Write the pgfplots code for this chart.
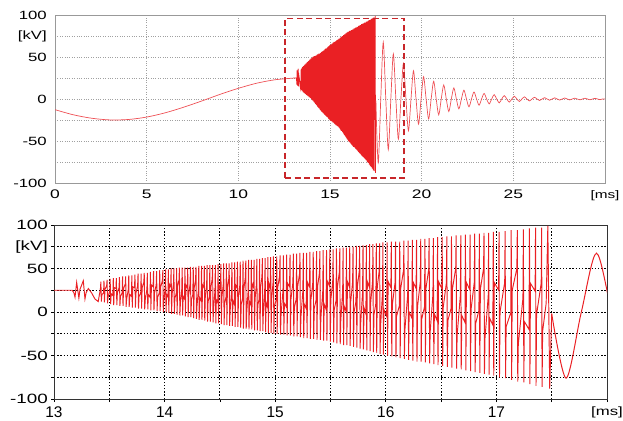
\documentclass[border=0pt]{standalone}
\usepackage{fontspec}
\setmainfont{Liberation Sans}
\newfontfamily\lbl[FakeStretch=1.4]{Liberation Sans}
\usepackage{pgfplots}
\pgfplotsset{compat=1.18}
\usepackage{pgfplotstable}
\definecolor{sig}{RGB}{234,32,36}
\definecolor{sigtop}{RGB}{238,80,85}
\definecolor{boxc}{RGB}{200,38,42}
\definecolor{gridtop}{RGB}{160,160,160}

\pgfplotstableread{
t v
0 -12.7
1 -18.8
2 -22.9
3 -24.9
4 -24.4
5 -21.5
6 -16.5
7 -9.9
8 -2.4
9 5.5
10 12.7
11 18.8
12 22.9
13 24.9
}\sinepart

\pgfplotstableread{
t v
13 25
13.165 25
13.18 22
13.19 17
13.205 34
13.225 16
13.235 26
13.265 36
13.28 15
13.29 22
13.31 27
13.34 22
13.37 15
13.40 12
13.42 27
13.424 35
13.428 12
13.433 20
13.448 22
13.452 36
13.456 11
13.461 26
13.476 30
13.48 37
13.484 10
13.489 17
13.504 25
13.508 38
13.512 9
13.517 21
13.532 19
13.536 39
13.54 8
13.545 28
13.56 27
13.564 39
13.568 8
13.573 22
13.588 28
13.592 40
13.596 7
13.601 18
13.616 22
13.62 41
13.624 7
13.629 27
13.644 32
13.648 41
13.652 6
13.657 15
13.672 26
13.676 42
13.68 6
13.685 20
13.70 18
13.704 42
13.708 5
13.713 29
13.728 28
13.732 43
13.736 5
13.741 22
13.756 30
13.76 44
13.764 4
13.769 18
13.784 22
13.788 44
13.792 4
13.797 28
13.812 34
13.816 45
13.82 3
13.825 14
13.84 26
13.844 45
13.848 3
13.853 20
13.868 17
13.872 46
13.876 2
13.881 31
13.896 29
13.90 47
13.904 2
13.909 22
13.924 31
13.928 47
13.932 1
13.937 17
13.952 22
13.956 48
13.96 1
13.965 29
13.98 36
13.984 48
13.988 0
13.993 12
14.005 27
14.009 49
14.013 0
14.018 20
14.03 17
14.034 49
14.038 -1
14.043 32
14.055 29
14.059 50
14.063 -2
14.068 21
14.08 32
14.084 50
14.088 -2
14.093 16
14.105 21
14.109 50
14.113 -3
14.118 29
14.13 37
14.134 51
14.138 -4
14.143 10
14.155 26
14.159 51
14.163 -4
14.168 18
14.18 15
14.184 51
14.188 -5
14.193 31
14.205 28
14.209 51
14.213 -6
14.218 20
14.23 32
14.234 52
14.238 -6
14.243 14
14.255 20
14.259 52
14.263 -7
14.268 28
14.28 37
14.284 52
14.288 -8
14.293 7
14.305 25
14.309 53
14.313 -9
14.318 16
14.33 13
14.334 53
14.338 -9
14.343 31
14.355 28
14.359 53
14.363 -10
14.368 18
14.38 31
14.384 54
14.388 -11
14.393 12
14.405 18
14.409 54
14.413 -11
14.418 28
14.43 38
14.434 54
14.438 -12
14.443 4
14.455 24
14.459 54
14.463 -13
14.468 14
14.48 11
14.484 55
14.488 -13
14.493 31
14.505 27
14.509 55
14.513 -14
14.518 17
14.53 31
14.534 56
14.538 -15
14.543 10
14.555 17
14.559 56
14.563 -15
14.568 28
14.58 38
14.584 56
14.588 -16
14.593 2
14.605 24
14.609 57
14.613 -16
14.618 13
14.63 9
14.634 57
14.638 -17
14.643 31
14.655 28
14.659 58
14.663 -17
14.668 17
14.68 31
14.684 58
14.688 -18
14.693 9
14.705 16
14.709 59
14.713 -19
14.718 28
14.73 40
14.734 59
14.738 -19
14.743 0
14.755 24
14.759 60
14.763 -20
14.768 12
14.78 8
14.784 60
14.788 -20
14.793 32
14.805 28
14.809 60
14.813 -21
14.818 15
14.83 32
14.834 61
14.838 -21
14.843 8
14.855 15
14.859 61
14.863 -22
14.868 28
14.88 41
14.884 62
14.888 -22
14.893 -1
14.905 24
14.909 62
14.913 -23
14.918 11
14.93 6
14.934 63
14.938 -24
14.943 33
14.955 28
14.959 63
14.963 -24
14.968 15
14.98 33
14.984 64
14.988 -25
14.993 6
15.01 15
15.014 64
15.018 -25
15.023 28
15.04 42
15.044 65
15.048 -26
15.053 -3
15.07 24
15.074 65
15.078 -26
15.083 10
15.10 6
15.104 66
15.108 -27
15.113 33
15.13 29
15.134 66
15.138 -27
15.143 15
15.16 34
15.164 67
15.168 -28
15.173 5
15.19 15
15.194 67
15.198 -28
15.203 29
15.22 44
15.224 68
15.228 -29
15.233 -5
15.25 24
15.254 68
15.258 -30
15.263 9
15.28 4
15.284 68
15.288 -30
15.293 34
15.31 29
15.314 69
15.318 -31
15.323 14
15.34 34
15.344 69
15.348 -31
15.353 4
15.37 14
15.374 70
15.378 -32
15.383 29
15.40 45
15.404 70
15.408 -32
15.413 -7
15.43 24
15.434 71
15.438 -33
15.443 9
15.46 3
15.464 71
15.468 -33
15.473 35
15.49 30
15.494 72
15.498 -34
15.503 14
15.52 35
15.524 72
15.528 -35
15.533 2
15.55 13
15.554 73
15.558 -36
15.563 29
15.58 46
15.584 73
15.588 -37
15.593 -10
15.61 24
15.614 74
15.618 -38
15.623 7
15.64 1
15.644 74
15.648 -38
15.653 35
15.67 29
15.674 75
15.678 -39
15.683 12
15.70 35
15.704 75
15.708 -40
15.713 0
15.73 12
15.734 76
15.738 -41
15.743 29
15.76 47
15.764 76
15.768 -42
15.773 -13
15.79 23
15.794 77
15.798 -43
15.803 5
15.82 -2
15.824 77
15.828 -44
15.833 35
15.85 29
15.854 78
15.858 -45
15.863 10
15.88 35
15.884 78
15.888 -46
15.893 -3
15.91 10
15.914 79
15.918 -47
15.923 29
15.94 47
15.944 79
15.948 -48
15.953 -16
15.97 22
15.974 80
15.978 -49
15.983 3
16.008 -5
16.012 80
16.016 -50
16.021 35
16.046 28
16.05 81
16.054 -51
16.059 8
16.084 34
16.088 81
16.092 -52
16.097 -5
16.122 7
16.126 81
16.13 -53
16.135 27
16.16 48
16.164 82
16.168 -54
16.173 -20
16.198 20
16.202 82
16.206 -55
16.211 0
16.236 -7
16.24 83
16.244 -56
16.249 34
16.274 27
16.278 83
16.282 -57
16.287 6
16.312 35
16.316 84
16.32 -57
16.325 -8
16.35 6
16.354 84
16.358 -58
16.363 27
16.388 49
16.392 85
16.396 -59
16.401 -23
16.426 20
16.43 85
16.434 -60
16.439 -2
16.464 -10
16.468 86
16.472 -61
16.477 35
16.506 27
16.51 86
16.514 -62
16.519 5
16.548 34
16.552 87
16.556 -63
16.561 -10
16.59 4
16.594 87
16.598 -64
16.603 27
16.632 50
16.636 88
16.64 -65
16.645 -27
16.674 19
16.678 88
16.682 -66
16.687 -4
16.716 -12
16.72 89
16.724 -67
16.729 34
16.758 26
16.762 89
16.766 -68
16.771 3
16.80 34
16.804 90
16.808 -69
16.813 -13
16.842 2
16.846 90
16.85 -70
16.855 26
16.884 50
16.888 91
16.892 -71
16.897 -30
16.926 18
16.93 91
16.934 -72
16.939 -7
16.968 -15
16.972 92
16.976 -73
16.981 34
17.02 25
17.024 92
17.028 -75
17.033 0
17.075 34
17.079 93
17.083 -76
17.088 -17
17.13 -1
17.134 94
17.138 -78
17.143 25
17.185 50
17.189 94
17.193 -80
17.198 -37
17.24 16
17.244 95
17.248 -81
17.253 -11
17.295 -20
17.299 96
17.303 -83
17.308 33
17.35 24
17.354 97
17.358 -85
17.363 -3
17.405 33
17.409 97
17.413 -86
17.418 -22
17.45 10
17.465 99
17.482 -88
17.50 -2
}\hfpart

\pgfplotstableread{
t v
17.5 -2
17.63 -76
17.768 0
17.905 67.6
18.043 0
18.18 -60.2
18.318 0
18.455 53.6
18.593 0
18.73 -47.7
18.868 0
19.005 42.4
19.143 0
19.28 -37.8
19.418 0
19.555 33.6
19.693 0
19.83 -29.9
19.968 0
20.105 26.6
20.243 0
20.38 -23.7
20.518 0
20.655 21.1
20.793 0
20.93 -18.8
21.068 0
21.205 16.7
21.343 0
21.48 -14.9
21.618 0
21.755 13.2
21.893 0
22.03 -11.8
22.168 0
22.305 10.5
22.443 0
22.58 -9.3
22.718 0
22.855 8.3
22.993 0
23.13 -7.4
23.268 0
23.405 6.6
23.543 0
23.68 -5.8
23.818 0
23.955 5.2
24.093 0
24.23 -4.6
24.368 0
24.505 4.1
24.643 0
24.78 -3.7
24.918 0
25.055 3.3
25.193 0
25.33 -2.9
25.468 0
25.605 2.6
25.743 0
25.88 -2.3
26.018 0
26.155 2.0
26.293 0
26.43 -1.8
26.568 0
26.705 1.6
26.843 0
26.98 -1.5
27.118 0
27.255 1.4
27.393 0
27.53 -1.3
27.668 0
27.805 1.2
27.943 0
28.08 -1.1
28.218 0
28.355 1.0
28.493 0
28.63 -1.0
28.768 0
28.905 0.9
29.043 0
29.18 -0.9
29.318 0
29.455 0.8
29.593 0
29.73 -0.8
29.868 0
30.0 0
}\decaypart

\begin{document}
\begin{tikzpicture}
\path[use as bounding box] (0bp,0bp) rectangle (623bp,-421bp);
% ---------- top panel ----------
\begin{axis}[
  at={(55bp,-15bp)}, anchor=north west,
  scale only axis, width=550bp, height=168bp,
  xmin=0, xmax=30, ymin=-100, ymax=100,
  xtick={0,5,...,30}, xticklabels={0,5,10,15,20,25,{\fontsize{11}{11}\selectfont[ms]}},
  ytick={-100,-50,0,50,75,100}, yticklabels={-100,-50,0,50,{[kV]},100},
  minor ytick={-75,-25,25},
  grid=both,
  major grid style={gridtop, dotted, line width=0.6bp},
  minor grid style={gridtop, dotted, line width=0.6bp},
  axis line style={gray!80, line width=0.8bp},
  major tick length=0pt, minor tick length=0pt,
  /pgf/number format/assume math mode=true,
  xticklabel style={font=\lbl\fontsize{12.5}{12.5}\selectfont, inner sep=0pt, anchor=north, yshift=-7bp},
  yticklabel style={font=\lbl\fontsize{12}{12}\selectfont, inner sep=0pt, anchor=east, xshift=-8bp},
  clip=true,
]
\addplot[sigtop, line width=0.7bp, smooth] table[x=t,y=v] {\sinepart};
\addplot[sig, line width=0.8bp] table[x=t,y=v] {\hfpart};
\addplot[sigtop, line width=0.7bp, smooth] table[x=t,y=v] {\decaypart};
\addplot[boxc, line width=1.6bp, dash pattern=on 6bp off 3.5bp] coordinates {(12.55,-94) (19.04,-94) (19.04,96) (12.55,96) (12.55,-94)};
\end{axis}
% ---------- bottom panel ----------
\begin{axis}[
  at={(54bp,-225bp)}, anchor=north west,
  scale only axis, width=553bp, height=174bp,
  xmin=13, xmax=18, ymin=-100, ymax=100,
  xtick={13,...,18}, xticklabels={13,14,15,16,17,{\lbl\fontsize{12}{12}\selectfont[ms]}},
  minor xtick={13.5,14.5,...,17.5},
  ytick={-100,-50,0,50,75,100}, yticklabels={-100,-50,0,50,{[kV]},100},
  minor ytick={-75,-25,25},
  grid=both,
  major grid style={black, line width=0.9bp, dash pattern=on 1.4bp off 1.8bp},
  minor grid style={black, line width=0.9bp, dash pattern=on 1.4bp off 1.8bp},
  axis line style={black!80, line width=0.9bp},
  tick pos=left, tick align=outside,
  major tick length=3bp, minor tick length=3bp,
  tick style={black, line width=0.8bp},
  /pgf/number format/assume math mode=true,
  xticklabel style={font=\fontsize{15.5}{15.5}\selectfont, inner sep=0pt, anchor=north, yshift=-5bp},
  yticklabel style={font=\lbl\fontsize{13.5}{13.5}\selectfont, inner sep=0pt, anchor=east, xshift=-3bp},
  clip=true,
]
\addplot[sig, line width=0.95bp] table[x=t,y=v] {\hfpart};
\addplot[sig, line width=1bp, smooth] table[x=t,y=v] {\decaypart};
\end{axis}
\end{tikzpicture}
\end{document}
